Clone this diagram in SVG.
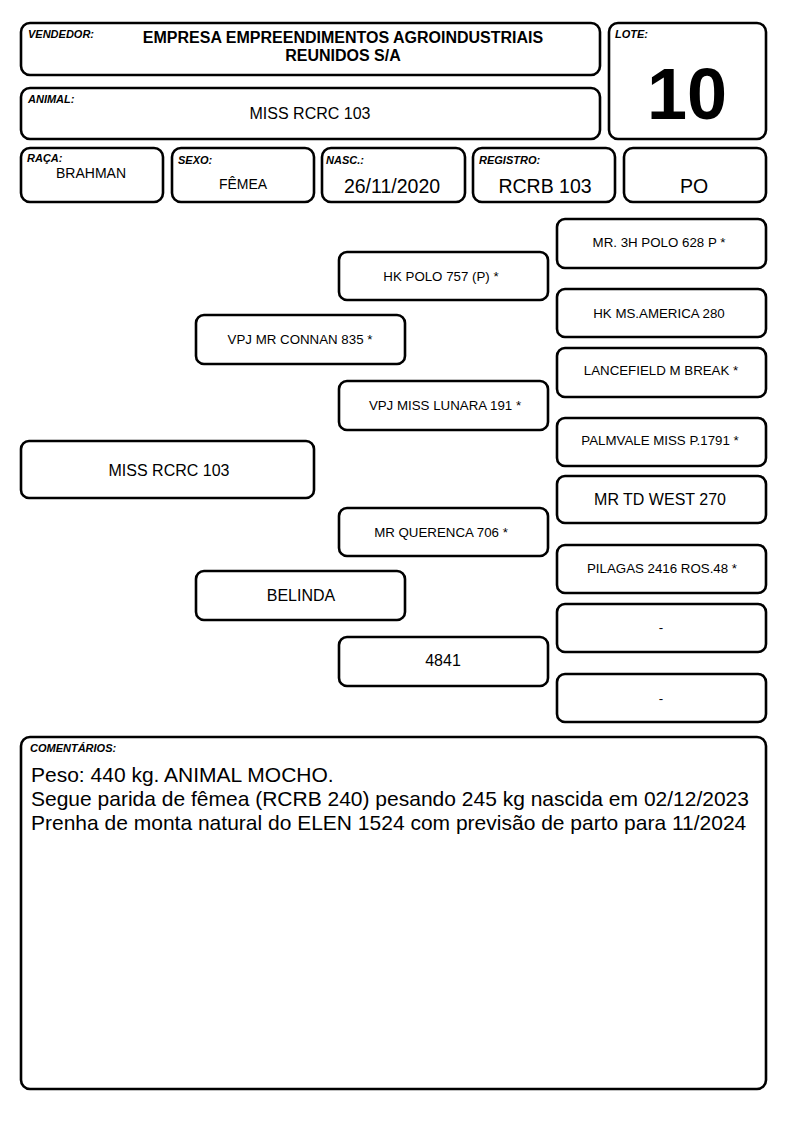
<svg xmlns="http://www.w3.org/2000/svg" width="794" height="1123" viewBox="0 0 794 1123">
<style>
.b{fill:#fff;stroke:#000;stroke-width:2.6}
.lbl{font-family:"Liberation Sans",Arial,sans-serif;font-size:11px;font-weight:bold;font-style:italic;fill:#000}
.t{font-family:"Liberation Sans",Arial,sans-serif;fill:#000;text-anchor:middle}
.s{font-size:13.3px}
.m{font-size:14px}
.l{font-size:16px}
.xl{font-size:19.5px}
.c{font-family:"Liberation Sans",Arial,sans-serif;font-size:21px;fill:#000}
</style>
<rect width="794" height="1123" fill="#fff"/>
<g id="vendedor">
<rect class="b" x="21" y="23" width="579" height="52" rx="9"/>
<text class="lbl" x="28" y="38">VENDEDOR:</text>
<text class="t" x="343" y="43" font-size="16" font-weight="bold">EMPRESA EMPREENDIMENTOS AGROINDUSTRIAIS</text>
<text class="t" x="343" y="61" font-size="16" font-weight="bold">REUNIDOS S/A</text>
</g>
<g id="lote">
<rect class="b" x="609" y="23" width="157" height="116" rx="9"/>
<text class="lbl" x="615" y="38">LOTE:</text>
<text class="t" x="687" y="119" font-size="72" font-weight="bold">10</text>
</g>
<g id="animal">
<rect class="b" x="21" y="88" width="579" height="51" rx="9"/>
<text class="lbl" x="28" y="103">ANIMAL:</text>
<text class="t l" x="310" y="119">MISS RCRC 103</text>
</g>
<g id="raca">
<rect class="b" x="21" y="148" width="142" height="54" rx="9"/>
<text class="lbl" x="27" y="162">RAÇA:</text>
<text class="t m" x="91" y="178">BRAHMAN</text>
</g>
<g id="sexo">
<rect class="b" x="172" y="148" width="142" height="54" rx="9"/>
<text class="lbl" x="178" y="164">SEXO:</text>
<text class="t m" x="243" y="189">FÊMEA</text>
</g>
<g id="nasc">
<rect class="b" x="322" y="148" width="143" height="54" rx="9"/>
<text class="lbl" x="326" y="164">NASC.:</text>
<text class="t xl" x="392" y="193">26/11/2020</text>
</g>
<g id="registro">
<rect class="b" x="473" y="148" width="142" height="54" rx="9"/>
<text class="lbl" x="479" y="164">REGISTRO:</text>
<text class="t xl" x="545" y="193">RCRB 103</text>
</g>
<g id="po">
<rect class="b" x="624" y="148" width="142" height="54" rx="9"/>
<text class="t xl" x="694" y="193">PO</text>
</g>
<g id="n-mr3hpolo">
<rect class="b" x="557" y="219" width="209" height="49" rx="8"/>
<text class="t s" x="659" y="247">MR. 3H POLO 628 P *</text>
</g>
<g id="n-hkpolo">
<rect class="b" x="339" y="252" width="209" height="48" rx="8"/>
<text class="t s" x="441" y="281">HK POLO 757 (P) *</text>
</g>
<g id="n-hkmsamerica">
<rect class="b" x="557" y="289" width="209" height="48" rx="8"/>
<text class="t s" x="659" y="318">HK MS.AMERICA 280</text>
</g>
<g id="n-vpjmrconnan">
<rect class="b" x="196" y="315" width="209" height="49" rx="8"/>
<text class="t s" x="300" y="344">VPJ MR CONNAN 835 *</text>
</g>
<g id="n-lancefield">
<rect class="b" x="557" y="348" width="209" height="49" rx="8"/>
<text class="t s" x="661" y="375">LANCEFIELD M BREAK *</text>
</g>
<g id="n-vpjmisslunara">
<rect class="b" x="339" y="381" width="209" height="49" rx="8"/>
<text class="t s" x="445" y="410">VPJ MISS LUNARA 191 *</text>
</g>
<g id="n-palmvale">
<rect class="b" x="557" y="418" width="209" height="48" rx="8"/>
<text class="t s" x="660" y="445">PALMVALE MISS P.1791 *</text>
</g>
<g id="n-missrcrc">
<rect class="b" x="21" y="441" width="293" height="57" rx="8"/>
<text class="t l" x="169" y="476">MISS RCRC 103</text>
</g>
<g id="n-mrtdwest">
<rect class="b" x="557" y="476" width="209" height="47" rx="8"/>
<text class="t l" x="660" y="505">MR TD WEST 270</text>
</g>
<g id="n-mrquerenca">
<rect class="b" x="339" y="508" width="209" height="48" rx="8"/>
<text class="t s" x="441" y="537">MR QUERENCA 706 *</text>
</g>
<g id="n-pilagas">
<rect class="b" x="557" y="545" width="209" height="48" rx="8"/>
<text class="t s" x="662" y="573">PILAGAS 2416 ROS.48 *</text>
</g>
<g id="n-belinda">
<rect class="b" x="196" y="571" width="209" height="49" rx="8"/>
<text class="t l" x="301" y="601">BELINDA</text>
</g>
<g id="n-dash1">
<rect class="b" x="557" y="604" width="209" height="48" rx="8"/>
<text class="t s" x="661" y="632">-</text>
</g>
<g id="n-4841">
<rect class="b" x="339" y="637" width="209" height="49" rx="8"/>
<text class="t l" x="443" y="666">4841</text>
</g>
<g id="n-dash2">
<rect class="b" x="557" y="674" width="209" height="48" rx="8"/>
<text class="t s" x="661" y="703">-</text>
</g>
<g id="connectors"></g>
<g id="comentarios">
<rect class="b" x="21" y="737" width="745" height="352" rx="9"/>
<text class="lbl" x="30" y="752">COMENTÁRIOS:</text>
<text class="c" x="31" y="782">Peso: 440 kg. ANIMAL MOCHO.</text>
<text class="c" x="31" y="806">Segue parida de fêmea (RCRB 240) pesando 245 kg nascida em 02/12/2023</text>
<text class="c" x="31" y="830">Prenha de monta natural do ELEN 1524 com previsão de parto para 11/2024</text>
</g>
</svg>
